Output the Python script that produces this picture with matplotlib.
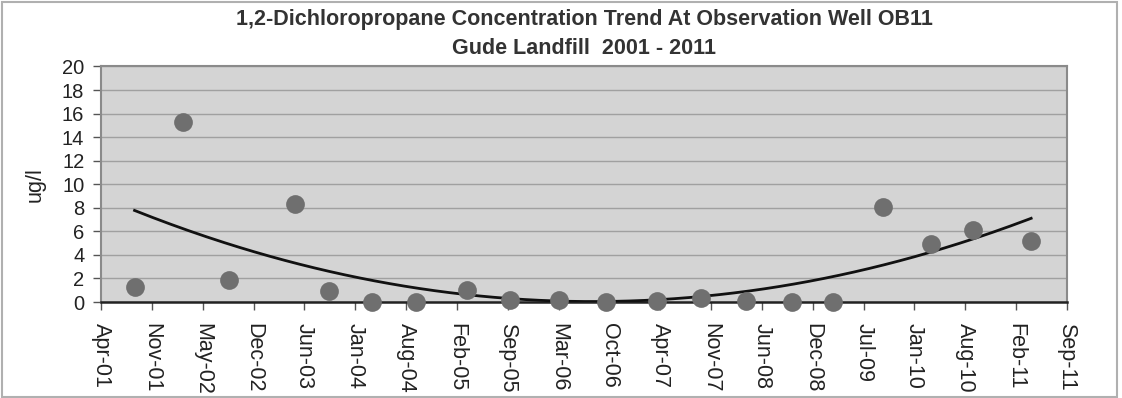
"""1,2-Dichloropropane concentration trend at observation well OB11."""
import datetime as dt

import matplotlib
matplotlib.use("Agg")
import matplotlib.dates as mdates
import matplotlib.pyplot as plt
import numpy as np
from matplotlib.patches import Rectangle

plt.rcParams['font.family'] = ['Liberation Sans', 'DejaVu Sans']

# Sampling dates and measured concentrations (ug/l)
sample_dates = [
    '2001-08-29', '2002-03-06', '2002-09-06', '2003-05-23', '2003-10-03',
    '2004-03-19', '2004-09-10', '2005-03-28', '2005-09-13', '2006-03-24',
    '2006-09-25', '2007-04-16', '2007-10-06', '2008-03-29', '2008-09-27',
    '2009-03-07', '2009-09-19', '2010-03-27', '2010-09-11', '2011-04-26',
]
concentrations = [
    1.3, 15.3, 1.9, 8.3, 0.95,
    0.0, 0.0, 1.05, 0.2, 0.15,
    0.0, 0.1, 0.35, 0.05, 0.0,
    0.0, 8.1, 4.9, 6.15, 5.15,
]

# Date axis: 200-day major unit starting at 19 Apr 2001
axis_start = dt.datetime(2001, 4, 19)
tick_step_days = 200
n_ticks = 20

dates = np.array([np.datetime64(d) for d in sample_dates]).astype('datetime64[D]').astype(dt.datetime)
x = mdates.date2num(dates)
y = np.array(concentrations)

# Second-order polynomial trend line over the sampling period
coef = np.polyfit(x - x[0], y, 2)
x_fit = np.linspace(x[0], x[-1], 300)
y_fit = np.polyval(coef, x_fit - x[0])

fig = plt.figure(figsize=(11.22, 3.98), dpi=100)
ax = fig.add_axes([101 / 1122, 1 - 302 / 398, 966 / 1122, 235.5 / 398])

ax.set_facecolor('#d4d4d4')
ax.plot(x_fit, y_fit, color='#111111', linewidth=2.0, zorder=3)
ax.plot(x, y, 'o', color='#6f6f6f', markersize=13.5, markeredgewidth=0, zorder=4, clip_on=False)

ticks = [axis_start + dt.timedelta(days=tick_step_days * k) for k in range(n_ticks)]
ax.set_xlim(mdates.date2num(ticks[0]), mdates.date2num(ticks[-1]))
ax.set_xticks(mdates.date2num(ticks))
ax.xaxis.set_major_formatter(mdates.DateFormatter('%b-%y'))
ax.set_ylim(0, 20)
ax.set_yticks(range(0, 21, 2))

ax.grid(axis='y', color='#a0a0a0', linewidth=1.0)
ax.set_axisbelow(True)

for side in ('top', 'right', 'left'):
    ax.spines[side].set_color('#8a8a8a')
    ax.spines[side].set_linewidth(1.5)
ax.spines['bottom'].set_color('#222222')
ax.spines['bottom'].set_linewidth(1.8)

ax.tick_params(axis='x', direction='out', length=6, width=1, color='#555555',
               labelsize=15.5, labelcolor='#222222', pad=9, labelrotation=270)
ax.tick_params(axis='y', direction='out', length=6, width=1, color='#555555',
               labelsize=14.5, labelcolor='#222222', pad=6)
for lbl in ax.get_xticklabels():
    lbl.set_verticalalignment('top')
    lbl.set_horizontalalignment('center')

ax.set_ylabel('ug/l', fontsize=15.5, color='#222222', labelpad=12)

center_x = (101 + 1067) / 2 / 1122
fig.text(center_x, 1 - 19 / 398,
         '1,2-Dichloropropane Concentration Trend At Observation Well OB11',
         ha='center', va='center', fontsize=15.5, fontweight='bold', color='#333333')
fig.text(center_x, 1 - 49 / 398, 'Gude Landfill  2001 - 2011',
         ha='center', va='center', fontsize=15.5, fontweight='bold', color='#333333')

# Chart area border
fig.patches.append(Rectangle((2 / 1122, 1.5 / 398), 1115 / 1122, 395 / 398,
                             transform=fig.transFigure, fill=False,
                             edgecolor='#b0b0b0', linewidth=1.5))

fig.savefig('out.png', dpi=100)
